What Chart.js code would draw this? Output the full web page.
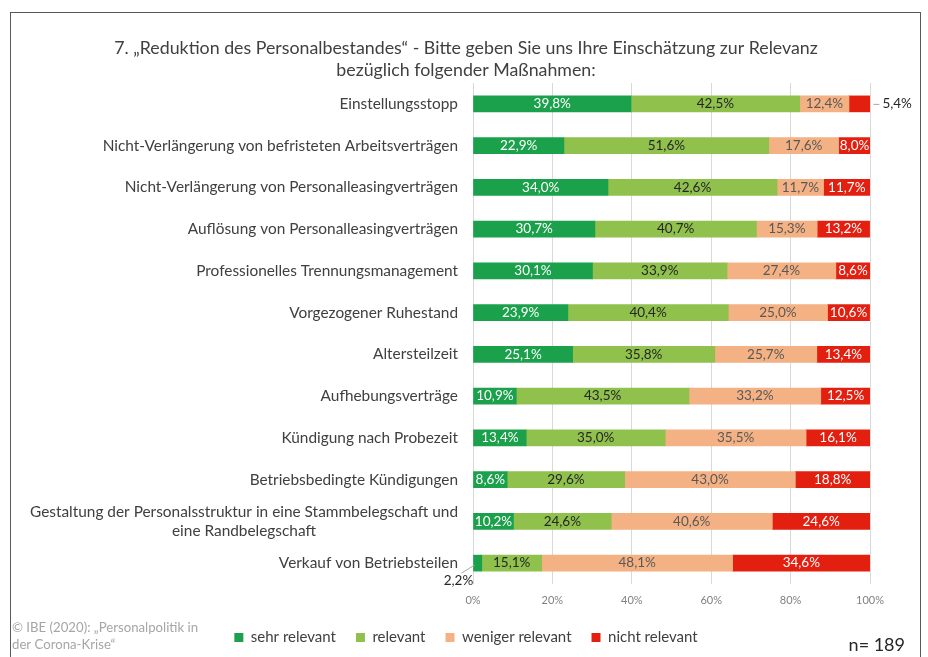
<!DOCTYPE html>
<html>
<head>
<meta charset="utf-8">
<script src="https://cdn.jsdelivr.net/npm/chart.js@4"></script>
<style>
  body { margin: 0; background: #fff; }
  #box { width: 928px; height: 657px; position: relative; }
</style>
</head>
<body>
<div id="box"><canvas id="grafik"></canvas></div>
<script>
// Daten
const massnahmen = [
    'Einstellungsstopp',
    'Nicht-Verlängerung von befristeten Arbeitsverträgen',
    'Nicht-Verlängerung von Personalleasingverträgen',
    'Auflösung von Personalleasingverträgen',
    'Professionelles Trennungsmanagement',
    'Vorgezogener Ruhestand',
    'Altersteilzeit',
    'Aufhebungsverträge',
    'Kündigung nach Probezeit',
    'Betriebsbedingte Kündigungen',
    ['Gestaltung der Personalsstruktur in eine Stammbelegschaft und', 'eine Randbelegschaft'],
    'Verkauf von Betriebsteilen'
];
const sehrRelevant    = [39.8, 22.9, 34.0, 30.7, 30.1, 23.9, 25.1, 10.9, 13.4, 8.6, 10.2, 2.2];
const relevant        = [42.5, 51.6, 42.6, 40.7, 33.9, 40.4, 35.8, 43.5, 35.0, 29.6, 24.6, 15.1];
const wenigerRelevant = [12.4, 17.6, 11.7, 15.3, 27.4, 25.0, 25.7, 33.2, 35.5, 43.0, 40.6, 48.1];
const nichtRelevant   = [5.4, 8.0, 11.7, 13.2, 8.6, 10.6, 13.4, 12.5, 16.1, 18.8, 24.6, 34.6];
const xTicks = [0, 20, 40, 60, 80, 100];

const titel = ['7. „Reduktion des Personalbestandes“ - Bitte geben Sie uns Ihre Einschätzung zur Relevanz',
               'bezüglich folgender Maßnahmen:'];
const quelle = ['© IBE (2020): „Personalpolitik in', 'der Corona-Krise“'];
const stichprobe = 'n= 189';

const FONT = 'Lato, "Open Sans", sans-serif';
const farben = ['#1ba14b', '#8fc14c', '#f4b183', '#e31f10'];
const textFarben = ['#ffffff', '#262626', '#595959', '#ffffff'];

const fmt = v => v.toFixed(1).replace('.', ',') + '%';

// Kategorien, Werte, Rahmen und Fußnoten selbst zeichnen
const extras = {
    id: 'extras',
    afterDatasetsDraw(chart) {
        const ctx = chart.ctx;
        const yScale = chart.scales.y;
        ctx.save();

        // Kategorien links
        ctx.font = '15.4px ' + FONT;
        ctx.fillStyle = '#404040';
        ctx.textBaseline = 'middle';
        ctx.textAlign = 'center';
        massnahmen.forEach((lab, i) => {
            const zeilen = Array.isArray(lab) ? lab : [lab];
            const y = yScale.getPixelForValue(i);
            const maxW = Math.max(...zeilen.map(z => ctx.measureText(z).width));
            const cx = 458 - maxW / 2;
            zeilen.forEach((z, k) => {
                ctx.fillText(z, cx, y + (k - (zeilen.length - 1) / 2) * 19);
            });
        });

        // Datenbeschriftungen
        ctx.font = '13.5px ' + FONT;
        chart.data.datasets.forEach((ds, d) => {
            const meta = chart.getDatasetMeta(d);
            meta.data.forEach((bar, i) => {
                const v = ds.data[i];
                const txt = fmt(v);
                const tw = ctx.measureText(txt).width;
                const left = Math.min(bar.x, bar.base);
                const right = Math.max(bar.x, bar.base);
                const w = right - left;
                if (w >= tw) {
                    ctx.fillStyle = textFarben[d];
                    ctx.textAlign = 'center';
                    ctx.fillText(txt, (left + right) / 2, bar.y);
                } else if (d === chart.data.datasets.length - 1) {
                    // außen rechts mit Führungslinie
                    ctx.strokeStyle = '#a6a6a6';
                    ctx.lineWidth = 1;
                    ctx.beginPath();
                    ctx.moveTo(right + 3, bar.y + 0.5);
                    ctx.lineTo(right + 9, bar.y + 0.5);
                    ctx.stroke();
                    ctx.fillStyle = '#262626';
                    ctx.textAlign = 'left';
                    ctx.fillText(txt, right + 12, bar.y);
                } else {
                    // unten links mit Führungslinie
                    ctx.strokeStyle = '#a6a6a6';
                    ctx.lineWidth = 1;
                    ctx.beginPath();
                    ctx.moveTo(left + 1, bar.y + 2);
                    ctx.lineTo(left - 12, bar.y + 10);
                    ctx.stroke();
                    ctx.fillStyle = '#262626';
                    ctx.textAlign = 'center';
                    ctx.fillText(txt, left - 15, bar.y + 18);
                }
            });
        });

        // Quelle und n
        ctx.font = '13.2px ' + FONT;
        ctx.fillStyle = '#a6a6a6';
        ctx.textAlign = 'left';
        ctx.fillText(quelle[0], 12, 628);
        ctx.fillText(quelle[1], 12, 645);
        ctx.font = '18px ' + FONT;
        ctx.fillStyle = '#262626';
        ctx.textAlign = 'right';
        ctx.fillText(stichprobe, 905, 645);

        // Rahmen
        ctx.strokeStyle = '#595959';
        ctx.lineWidth = 1;
        ctx.strokeRect(10.5, 12.5, 910, 660);
        ctx.restore();
    }
};

const ctx = document.getElementById('grafik').getContext('2d');
const grafik = new Chart(ctx, {
    type: 'bar',
    data: {
        labels: massnahmen,
        datasets: [
            { label: 'sehr relevant', data: sehrRelevant, backgroundColor: farben[0] },
            { label: 'relevant', data: relevant, backgroundColor: farben[1] },
            { label: 'weniger relevant', data: wenigerRelevant, backgroundColor: farben[2] },
            { label: 'nicht relevant', data: nichtRelevant, backgroundColor: farben[3] }
        ]
    },
    options: {
        indexAxis: 'y',
        responsive: true,
        maintainAspectRatio: false,
        animation: false,
        barThickness: 16,
        layout: { padding: { left: 62, right: 58, top: 0, bottom: 2 } },
        scales: {
            x: {
                stacked: true,
                min: 0,
                max: 100,
                afterBuildTicks: s => { s.ticks = xTicks.map(v => ({ value: v })); },
                afterFit: s => { s.height = 26; },
                grid: { color: '#d9d9d9', drawTicks: false },
                border: { display: false },
                ticks: {
                    padding: 10,
                    color: '#808080',
                    font: { family: FONT, size: 11 },
                    callback: v => v + '%'
                }
            },
            y: {
                stacked: true,
                afterFit: s => { s.width = 411; },
                grid: { display: false },
                border: { display: false },
                ticks: { display: false }
            }
        },
        plugins: {
            title: {
                display: true,
                text: titel,
                color: '#404040',
                font: { family: FONT, size: 17.8, weight: 'normal', lineHeight: 1.236 },
                padding: { top: 37, bottom: 2 }
            },
            legend: {
                position: 'bottom',
                labels: {
                    boxWidth: 9,
                    boxHeight: 9,
                    padding: 20,
                    color: '#404040',
                    font: { family: FONT, size: 15 }
                }
            },
            tooltip: { enabled: false }
        }
    },
    plugins: [extras]
});
</script>
</body>
</html>
